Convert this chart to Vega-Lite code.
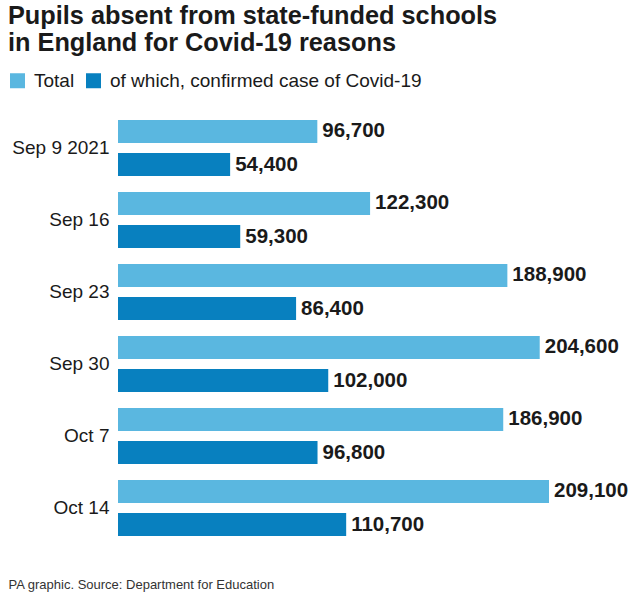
{
  "$schema": "https://vega.github.io/schema/vega-lite/v6.json",
  "autosize": "none",
  "width": 431,
  "height": 432,
  "padding": {"left": 118, "top": 112, "right": 91, "bottom": 54},
  "background": "white",
  "title": {
    "text": ["Pupils absent from state-funded schools", "in England for Covid-19 reasons"],
    "anchor": "start",
    "frame": "group",
    "dx": -110,
    "fontSize": 25.3,
    "fontWeight": "bold",
    "font": "Liberation Sans",
    "color": "#1a1a1a",
    "lineHeight": 27,
    "offset": 15
  },
  "data": {
    "values": [
      {"week": "Sep 9 2021", "series": "Total", "value": 96700},
      {"week": "Sep 9 2021", "series": "of which, confirmed case of Covid-19", "value": 54400},
      {"week": "Sep 16", "series": "Total", "value": 122300},
      {"week": "Sep 16", "series": "of which, confirmed case of Covid-19", "value": 59300},
      {"week": "Sep 23", "series": "Total", "value": 188900},
      {"week": "Sep 23", "series": "of which, confirmed case of Covid-19", "value": 86400},
      {"week": "Sep 30", "series": "Total", "value": 204600},
      {"week": "Sep 30", "series": "of which, confirmed case of Covid-19", "value": 102000},
      {"week": "Oct 7", "series": "Total", "value": 186900},
      {"week": "Oct 7", "series": "of which, confirmed case of Covid-19", "value": 96800},
      {"week": "Oct 14", "series": "Total", "value": 209100},
      {"week": "Oct 14", "series": "of which, confirmed case of Covid-19", "value": 110700}
    ]
  },
  "encoding": {
    "y": {
      "field": "week",
      "type": "nominal",
      "sort": null,
      "scale": {"paddingInner": 0, "paddingOuter": 0},
      "axis": {
        "title": null,
        "ticks": false,
        "domain": false,
        "labelFontSize": 19,
        "labelFont": "Liberation Sans",
        "labelColor": "#1a1a1a",
        "labelPadding": 9
      }
    },
    "yOffset": {
      "field": "series",
      "type": "nominal",
      "sort": ["Total", "of which, confirmed case of Covid-19"],
      "scale": {"paddingInner": 0.303, "paddingOuter": 0.2424}
    },
    "x": {
      "field": "value",
      "type": "quantitative",
      "scale": {"domain": [0, 209100], "nice": false},
      "axis": {
        "title": "PA graphic. Source: Department for Education",
        "labels": false,
        "ticks": false,
        "grid": false,
        "domain": false,
        "titleFont": "Liberation Sans",
        "titleFontSize": 13,
        "titleFontWeight": "normal",
        "titleColor": "#333333",
        "titleAnchor": "start",
        "titleAlign": "left",
        "titleBaseline": "alphabetic",
        "titleX": -110,
        "titleY": 44
      }
    }
  },
  "layer": [
    {
      "mark": {"type": "bar"},
      "encoding": {
        "color": {
          "field": "series",
          "type": "nominal",
          "sort": ["Total", "of which, confirmed case of Covid-19"],
          "scale": {"range": ["#5ab7e0", "#0880bf"]},
          "legend": {
            "title": null,
            "orient": "none",
            "direction": "horizontal",
            "legendX": -110,
            "legendY": -41,
            "symbolType": "square",
            "symbolSize": 225,
            "symbolStrokeWidth": 0,
            "symbolOpacity": 1,
            "labelFontSize": 19,
            "labelFont": "Liberation Sans",
            "labelColor": "#1a1a1a",
            "labelOffset": 7,
            "columnPadding": 9,
            "labelLimit": 400
          }
        }
      }
    },
    {
      "mark": {"type": "text", "align": "left", "baseline": "middle", "dx": 5, "fontSize": 20.5, "fontWeight": "bold", "font": "Liberation Sans", "color": "#1a1a1a"},
      "encoding": {
        "text": {"field": "value", "type": "quantitative", "format": ","}
      }
    }
  ],
  "config": {
    "view": {"stroke": null}
  }
}
